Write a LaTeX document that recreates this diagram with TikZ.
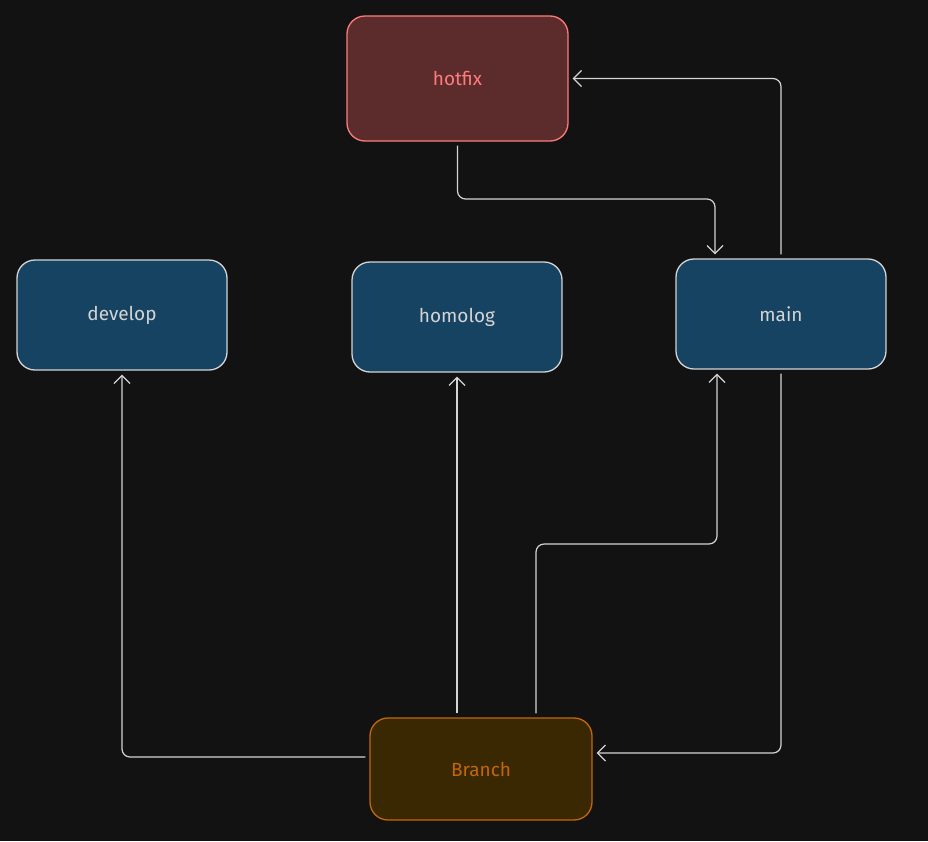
\documentclass[tikz,border=0pt]{standalone}
\usepackage{fontspec}
\setmainfont{Fira Sans}
\usetikzlibrary{arrows.meta}
\definecolor{bg}{HTML}{121212}
\definecolor{linec}{HTML}{D4D4D4}
\definecolor{bluef}{HTML}{164362}
\definecolor{redf}{HTML}{5C2C2C}
\definecolor{reds}{HTML}{FF7B7B}
\definecolor{orangef}{HTML}{3A2803}
\definecolor{oranges}{HTML}{C2670C}
\tikzset{
  box/.style={draw=linec, fill=bluef, line width=1.3pt, rounded corners=18pt,
    minimum width=210pt, minimum height=110pt, text=linec, font=\fontsize{19}{22}\selectfont, inner sep=0pt},
  hotbox/.style={box, draw=reds, fill=redf, text=reds, minimum width=221pt, minimum height=125pt},
  branchbox/.style={box, draw=oranges, fill=orangef, text=oranges, minimum width=222pt, minimum height=102pt},
  conn/.style={draw=linec, line width=1.2pt, rounded corners=8pt,
    -{Straight Barb[length=8pt,width=16pt,line width=1.2pt]}, shorten >=4pt, shorten <=4pt}
}
\begin{document}
\begin{tikzpicture}[x=1pt,y=-1pt]
\fill[bg] (0,0) rectangle (928,841);
\useasboundingbox (0,0) rectangle (928,841);
\node[hotbox] (hotfix) at (457.5,78.5) {hotfix};
\node[box] (develop) at (122,315) {develop};
\node[box] (homolog) at (457,317) {homolog};
\node[box] (main) at (781,314) {main};
\node[branchbox] (branch) at (481,769) {Branch};
% main -> hotfix
\draw[conn] (main.north) |- (hotfix.east);
% hotfix -> main
\coordinate (mtop) at ([xshift=-66pt]main.north);
\draw[conn] (hotfix.south) |- (mtop |- 0,199) -- (mtop);
% branch -> develop
\draw[conn] ([yshift=12pt]branch.west) -| (develop.south);
% branch -> homolog
\draw[conn] (homolog.south |- branch.north) -- (homolog.south);
% branch -> main
\coordinate (bstart) at ([xshift=55pt]branch.north);
\coordinate (mbot) at ([xshift=-64pt]main.south);
\draw[conn] (bstart) |- (mbot |- 0,544) -- (mbot);
% main -> branch
\draw[conn] (main.south) |- ([yshift=16pt]branch.east);
\end{tikzpicture}
\end{document}
